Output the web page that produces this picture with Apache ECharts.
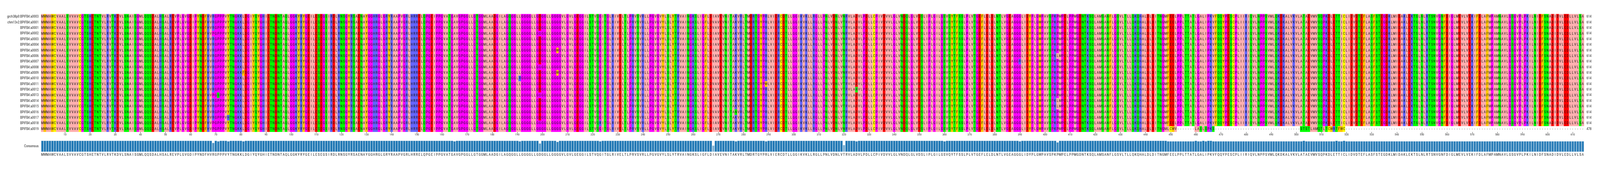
<!DOCTYPE html>
<html>
<head>
<meta charset="utf-8">
<style>html,body{margin:0;padding:0;background:#fff;overflow:hidden}#main{width:100vw;height:100vh}</style>
<script src="https://cdn.jsdelivr.net/npm/echarts@6/dist/echarts.min.js"></script>
</head>
<body>
<div id="main"></div>
<script>
var rowNames = ['grch38p0:BPIFB4:a0003','chm13v2:BPIFB4:a0001','BPIFB4:a0001','BPIFB4:a0002','BPIFB4:a0003','BPIFB4:a0004','BPIFB4:a0005',
    'BPIFB4:a0006','BPIFB4:a0007','BPIFB4:a0008','BPIFB4:a0009','BPIFB4:a0010','BPIFB4:a0011','BPIFB4:a0012','BPIFB4:a0013','BPIFB4:a0014',
    'BPIFB4:a0015','BPIFB4:a0016','BPIFB4:a0017','BPIFB4:a0018','BPIFB4:a0019'];
var rowLengths = [614,614,614,614,614,614,614,614,614,614,614,614,614,614,614,614,614,614,614,614,478];

var consensus = 'MWMAWCVAALSVVAVCGTSHETNTVLRVTKDVLSNAISGMLQQSDALHSALREVPLGVGDIPYNDFHVRGPPPVYTNGKKLDGIYQYGHIETNDNTAQLG'
    + 'GKYRYGEILESEGSIRDLRNSGYRSAENAYGGHRGLGRYRAAPVGRLHRRELQPGEIPPGVATGAVGPGGLLGTGGMLAADGILAGQGGLLGGGGLLGDG'
    + 'GLLGGGGVLGVLGEGGILSTVQGITGLRIVELTLPRVSVRLLPGVGVYLSLYTRVAINGKSLIGFLDIAVEVNITAKVRLTMDRTGYPRLVIERCDTLLG'
    + 'GIKVKLLRGLLPNLVDNLVTRVLADVLPDLLCPIVDVVLGLVNDQLGLVDSLIPLGILGSVQYTFSSLPLVTGEFLELDLNTLVGEAGGGLIDYPLGWPA'
    + 'VSPKPMPELPPMGDNTKSQLAMSANFLGSVLTLLQKQHALDLDITNGMFEELPPLTTATLGALIPKVFQQYPESCPLIIRIQVLNPPSVMLQKDKALVKV'
    + 'LATAEVMVSQPKDLETTICLIDVDTEFLASFSTEGDKLMIDAKLEKTSLNLRTSNVGNFDIGLMEVLVEKIFDLAFMPAMNAVLGSGVPLPKILNIDFSN'
    + 'ADIDVLEDLLVLSA';

// substitutions against the consensus: column, letter, rows (1 based)
var variantColumns = [69,71,75,81,165,191,199,206,223,268,277,289,320,325,360,390,405];
var variantLetters = ['P','S','H','F','V','R','G','W','R','V','N','W','N','N','N','R','L'];
var variantRows = [[4,15,20,21],[15],[19],[11],[17],[12],[4,10,15,20,21],[7,11],[20],[2,3,9,12,13,14,16,18,19],[18],[13],[1,4,5,7,10,11,20,21],[14],[11],[9],[8,16,17]];

// last isoform differs from column 449 on, the parts are separated by gaps
var lastRowParts = ['LCWV','LASLSPKS','STSTLAMQTLTCWRTFWC'];
var lastRowStarts = [449,460,502];

var zappo = {
    I:'#ffafaf',L:'#ffafaf',V:'#ffafaf',A:'#ffafaf',M:'#ffafaf',
    F:'#ffc800',W:'#ffc800',Y:'#ffc800',
    K:'#6464ff',R:'#6464ff',H:'#6464ff',
    D:'#ff0000',E:'#ff0000',
    S:'#00ff00',T:'#00ff00',N:'#00ff00',Q:'#00ff00',
    P:'#ff00ff',G:'#ff00ff',
    C:'#ffff00',
    '-':'#ffffff'
};

var columns = [];
var rows = [];
for(var i=0;i<consensus.length;i++){
    columns.push(String(i+1));
}
for(var r=0;r<rowNames.length;r++){
    rows.push(consensus.split(''));
}
for(var v=0;v<variantColumns.length;v++){
    for(var j=0;j<variantRows[v].length;j++){
        rows[variantRows[v][j]-1][variantColumns[v]-1] = variantLetters[v];
    }
}
var last = rows[rows.length-1];
for(var c=448;c<last.length;c++){
    last[c] = '-';
}
for(var p=0;p<lastRowParts.length;p++){
    for(var k=0;k<lastRowParts[p].length;k++){
        last[lastRowStarts[p]-1+k] = lastRowParts[p].charAt(k);
    }
}

var cells = [];
var identity = [];
for(var x=0;x<consensus.length;x++){
    var same = 0;
    for(var y=0;y<rows.length;y++){
        var letter = rows[y][x];
        if(letter==consensus.charAt(x)){
            same = same+1;
        }
        cells.push({
            value:[x,y,1],
            letter:letter,
            itemStyle:{color:zappo[letter]}
        });
    }
    var pct = same/rows.length;
    identity.push({
        value:pct*100,
        itemStyle:{color:'rgba(31,119,180,'+pct+')'}
    });
}

function everyTen(index) {
    return (index+1)%10==0;
}

var font = '"Roboto Condensed","DejaVu Sans Condensed",sans-serif';
var myChart = echarts.init(document.getElementById('main'));
// the browser window is narrower than the reference, so x is scaled to fit
var sx = myChart.getWidth()/6419;
var option = {
    animation:false,
    backgroundColor:'#fff',
    grid: [
        {left:165*sx,top:36,width:6190*sx,height:301.7},
        {left:165*sx,top:360.3,width:6190*sx,height:28.7}
    ],
    xAxis: [
        {
            type:'category',
            gridIndex:0,
            data:columns,
            axisLine:{show:false},
            axisTick:{show:true,alignWithLabel:true,interval:everyTen,length:4,lineStyle:{color:'#333',width:0.8}},
            axisLabel:{show:true,interval:everyTen,fontFamily:font,fontSize:7.5,color:'#333',margin:3},
            splitLine:{show:false}
        },
        {
            type:'category',
            gridIndex:1,
            data:consensus.split(''),
            axisLine:{show:false},
            axisTick:{show:false},
            axisLabel:{show:true,interval:0,fontFamily:font,fontSize:9,color:'#222',margin:3},
            splitLine:{show:false}
        }
    ],
    yAxis: [
        {
            type:'category',
            gridIndex:0,
            inverse:true,
            data:rowNames,
            axisLine:{show:false},
            axisTick:{show:false},
            axisLabel:{interval:0,fontFamily:font,fontSize:8.5,color:'#222',margin:10*sx},
            splitLine:{show:false}
        },
        {
            type:'category',
            gridIndex:0,
            inverse:true,
            position:'right',
            data:rowLengths,
            axisLine:{show:false},
            axisTick:{show:false},
            axisLabel:{interval:0,fontFamily:font,fontSize:8.5,color:'#222',margin:10*sx},
            splitLine:{show:false}
        },
        {
            type:'value',
            gridIndex:1,
            min:0,
            max:100,
            interval:50,
            axisLine:{show:false},
            axisTick:{show:false},
            axisLabel:{
                fontFamily:font,fontSize:8.5,color:'#222',margin:10*sx,
                formatter:function (val) {
                    return val==50 ? 'Consensus' : '';
                }
            },
            splitLine:{show:false}
        }
    ],
    series: [
        {
            type:'heatmap',
            xAxisIndex:0,
            yAxisIndex:0,
            progressive:0,
            silent:true,
            data:cells,
            label:{
                show:true,
                fontFamily:font,
                fontSize:9,
                color:'#111',
                formatter:function (params) {
                    return params.data.letter;
                }
            },
            itemStyle:{borderWidth:0}
        },
        {
            type:'bar',
            xAxisIndex:1,
            yAxisIndex:2,
            barWidth:'100%',
            silent:true,
            data:identity,
            itemStyle:{borderColor:'#ffffff',borderWidth:0.5}
        }
    ]
};
myChart.setOption(option);
</script>
</body>
</html>
